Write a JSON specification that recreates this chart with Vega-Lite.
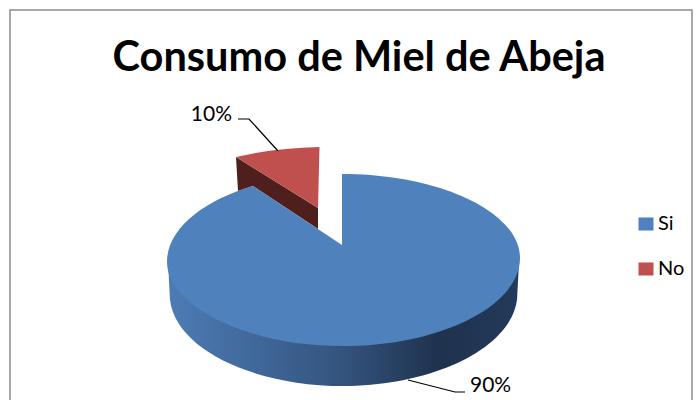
{
"$schema":"https://vega.github.io/schema/vega-lite/v6.json",
"width":682,"height":392,
"autosize":{"type":"none"},
"padding":{"left":10,"top":10,"right":6,"bottom":0},
"background":"white",
"title":{"text":"Consumo de Miel de Abeja","font":"Lato","fontSize":41.5,"fontWeight":"bold","color":"#000000","anchor":"middle","frame":"group","dx":8,"offset":-69,"baseline":"top"},
"config":{"view":{"stroke":"#8c8c8c","strokeWidth":1.5}},
"data":{"values":[{"respuesta":"Si","porcentaje":0.9},{"respuesta":"No","porcentaje":0.1}]},
"encoding":{
"x":{"field":"respuesta","type":"nominal","axis":null,"scale":{"domain":["Si","No"],"range":[332,308],"padding":0}},
"y":{"field":"respuesta","type":"nominal","axis":null,"scale":{"domain":["Si","No"],"range":[235,198],"padding":0}}
},
"layer":[
{"transform":[{"filter":"datum.respuesta==='Si'"}],
 "mark":{"type":"point","filled":true,"opacity":1,"size":4,"shape":"M-174,17 L-172,55 C-166,105 -87,141 1,141 C88,141 168,105 175,55 L177,17 Z",
 "fill":{"gradient":"linear","x1":0,"y1":0,"x2":1,"y2":0,"stops":[{"offset":0,"color":"#4d7cb5"},{"offset":0.5,"color":"#33537d"},{"offset":0.77,"color":"#1f324e"},{"offset":1,"color":"#233a5a"}]}}},
{"transform":[{"filter":"datum.respuesta==='No'"}],
 "mark":{"type":"point","filled":true,"opacity":1,"size":4,"fill":"#4f1f1d","shape":"M-82,-51 L0,0 L0,21 L-65,-22 L-80,-17 Z"}},
{"transform":[{"filter":"datum.respuesta==='No'"}],
 "mark":{"type":"point","filled":true,"opacity":1,"size":4,"shape":"M0,0 L1.5,-61 Q-43,-60 -82,-51 Z"},
 "encoding":{"color":{"field":"respuesta","type":"nominal","scale":{"domain":["Si","No"],"range":["#4f81bd","#c0504d"]},
 "legend":{"title":null,"orient":"none","legendX":626,"legendY":204,"symbolType":"M-1,-0.87H1V0.87H-1Z","symbolSize":225,"symbolOpacity":1,"symbolStrokeWidth":0,"labelFont":"Lato","labelFontSize":20,"labelColor":"#000000","labelOffset":2,"rowPadding":25,"symbolOffset":0}}}},
{"transform":[{"filter":"datum.respuesta==='Si'"}],
 "mark":{"type":"point","filled":true,"opacity":1,"size":4,"shape":"M0,0 L0,-71 C98,-71 178,-33 178,13 C178,61 98,101 1,101 C-96,101 -175,61 -175,17 C-175,-17 -137,-45 -89,-59 Z"},
 "encoding":{"color":{"field":"respuesta","type":"nominal"}}},
{"transform":[{"filter":"datum.respuesta==='Si'"}],
 "mark":{"type":"point","filled":false,"opacity":1,"size":4,"stroke":"#000000","strokeWidth":1.2,"shape":"M66,135 L113,147 L123,147"}},
{"transform":[{"filter":"datum.respuesta==='No'"}],
 "mark":{"type":"point","filled":false,"opacity":1,"size":4,"stroke":"#000000","strokeWidth":1.2,"shape":"M-80,-89 L-69,-89 L-40,-57"}},
{"transform":[{"filter":"datum.respuesta==='Si'"}],
 "mark":{"type":"text","font":"Lato","fontSize":21,"color":"#000000","align":"left","baseline":"middle","dx":128,"dy":141},
 "encoding":{"text":{"field":"porcentaje","type":"quantitative","format":".0%"}}},
{"transform":[{"filter":"datum.respuesta==='No'"}],
 "mark":{"type":"text","font":"Lato","fontSize":21,"color":"#000000","align":"right","baseline":"middle","dx":-86,"dy":-93},
 "encoding":{"text":{"field":"porcentaje","type":"quantitative","format":".0%"}}}
]
}
